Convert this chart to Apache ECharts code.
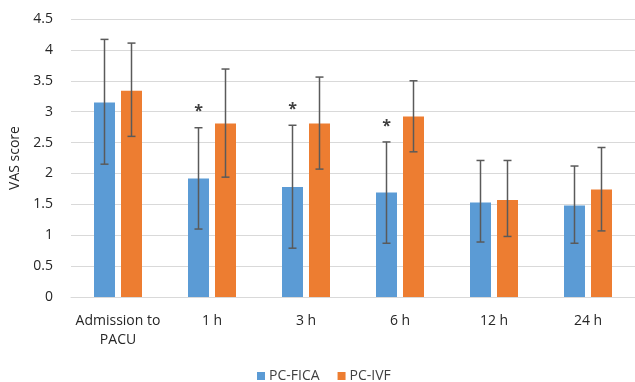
<!DOCTYPE html>
<html><head><meta charset="utf-8">
<script src="https://cdn.jsdelivr.net/npm/echarts@6/dist/echarts.min.js"></script>
<style>html,body{margin:0;padding:0;background:#fff;}#c{width:635px;height:382px;}</style>
</head><body><div id="c"></div>
<script>
const categories = ['Admission to\nPACU', '1 h', '3 h', '6 h', '12 h', '24 h'];
const seriesNames = ['PC-FICA', 'PC-IVF'];
const ficaMean = [3.15, 1.92, 1.78, 1.69, 1.53, 1.48];
const ficaLow  = [2.15, 1.10, 0.79, 0.87, 0.89, 0.87];
const ficaHigh = [4.17, 2.74, 2.78, 2.51, 2.21, 2.12];
const ivfMean  = [3.34, 2.81, 2.81, 2.92, 1.57, 1.74];
const ivfLow   = [2.60, 1.94, 2.07, 2.35, 0.98, 1.07];
const ivfHigh  = [4.11, 3.69, 3.56, 3.50, 2.21, 2.42];
const significant = [false, true, true, true, false, false];
const yTicks = [0, 0.5, 1, 1.5, 2, 2.5, 3, 3.5, 4, 4.5];

const colors = ['#5B9BD5', '#ED7D31'];
const barWidth = 21, barGapPx = 6;

function errSeries(lows, highs, offsetSign, stars) {
  return {
    type: 'custom',
    z: 10,
    silent: true,
    data: lows.map((l, i) => [i, l, highs[i], stars && stars[i] ? 1 : 0]),
    renderItem: function (params, api) {
      const i = api.value(0);
      const lo = api.coord([i, api.value(1)]);
      const hi = api.coord([i, api.value(2)]);
      const x = lo[0] + offsetSign * (barWidth + barGapPx) / 2;
      const cap = 4;
      const st = { stroke: '#5a5a5a', lineWidth: 1.5 };
      const children = [
        { type: 'line', shape: { x1: x, y1: hi[1], x2: x, y2: lo[1] }, style: st },
        { type: 'line', shape: { x1: x - cap, y1: hi[1], x2: x + cap, y2: hi[1] }, style: st },
        { type: 'line', shape: { x1: x - cap, y1: lo[1], x2: x + cap, y2: lo[1] }, style: st }
      ];
      if (api.value(3)) {
        children.push({ type: 'text', style: { text: '*', x: x, y: hi[1] - 16, align: 'center', verticalAlign: 'middle',
          font: 'bold 16px "Open Sans", sans-serif', fill: '#404040' } });
      }
      return { type: 'group', children: children };
    }
  };
}

const chart = echarts.init(document.getElementById('c'), null, { renderer: 'canvas' });
chart.setOption({
  animation: false,
  color: colors,
  textStyle: { fontFamily: '"Open Sans", sans-serif' },
  grid: { left: 71, top: 19, width: 567, height: 278, containLabel: false },
  legend: {
    data: seriesNames, bottom: -6, left: 252, itemWidth: 8, itemHeight: 8, itemGap: 18,
    icon: 'rect',
    textStyle: { fontSize: 14, color: '#404040', fontFamily: '"Open Sans", sans-serif', padding: [0,0,0,-1] }
  },
  xAxis: {
    type: 'category', data: categories,
    axisLine: { lineStyle: { color: '#d9d9d9', width: 1 } },
    axisTick: { show: false },
    axisLabel: { fontSize: 14, color: '#262626', margin: 15, lineHeight: 19, interval: 0 }
  },
  yAxis: {
    type: 'value', min: 0, max: 4.5, interval: 0.5,
    name: 'VAS score', nameLocation: 'middle', nameGap: 47, nameRotate: 90,
    nameTextStyle: { fontSize: 14, color: '#262626' },
    axisLabel: { fontSize: 14, color: '#262626', margin: 18, formatter: v => yTicks.includes(v) ? String(v) : '' },
    splitLine: { lineStyle: { color: '#d9d9d9', width: 1 } },
    axisLine: { show: false }, axisTick: { show: false }
  },
  series: [
    { name: seriesNames[0], type: 'bar', data: ficaMean, barWidth: barWidth, barGap: (barGapPx / barWidth * 100) + '%', itemStyle: { color: colors[0] } },
    { name: seriesNames[1], type: 'bar', data: ivfMean, barWidth: barWidth, itemStyle: { color: colors[1] } },
    errSeries(ficaLow, ficaHigh, -1, significant),
    errSeries(ivfLow, ivfHigh, 1, null)
  ]
});
</script></body></html>
